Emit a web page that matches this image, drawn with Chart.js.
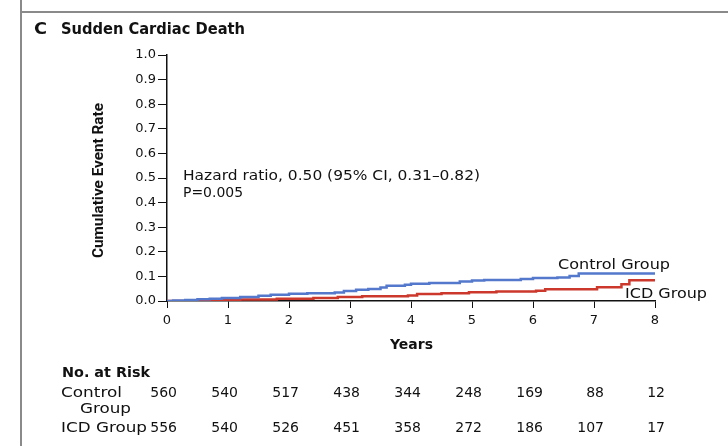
<!DOCTYPE html>
<html>
<head>
<meta charset="utf-8">
<script src="https://cdn.jsdelivr.net/npm/chart.js@4/dist/chart.umd.min.js"></script>
<style>
  html, body { margin: 0; padding: 0; background: #fff; }
  #wrap { width: 728px; height: 446px; position: relative; }
</style>
</head>
<body>
<div id="wrap"><canvas id="kmChart" width="728" height="446"></canvas></div>
<script>
// ---- data ----
const yearTicks = [0, 1, 2, 3, 4, 5, 6, 7, 8];

const controlTimes = [0, 0.1, 0.3, 0.5, 0.7, 0.9, 1.2, 1.5, 1.7, 2.0, 2.3, 2.75, 2.9, 3.1, 3.3, 3.5, 3.6, 3.9, 4.0, 4.3, 4.8, 5.0, 5.2, 5.8, 6.0, 6.4, 6.6, 6.75, 8.0];
const controlRates = [0, 0.002, 0.004, 0.007, 0.009, 0.012, 0.016, 0.021, 0.025, 0.029, 0.031, 0.035, 0.041, 0.046, 0.049, 0.055, 0.062, 0.066, 0.070, 0.073, 0.079, 0.083, 0.085, 0.089, 0.093, 0.096, 0.102, 0.112, 0.112];

const icdTimes = [0, 0.3, 0.8, 1.2, 1.8, 2.4, 2.8, 3.2, 3.95, 4.1, 4.5, 4.95, 5.4, 6.05, 6.2, 7.05, 7.45, 7.58, 8.0];
const icdRates = [0, 0.002, 0.004, 0.006, 0.009, 0.012, 0.016, 0.019, 0.022, 0.028, 0.031, 0.036, 0.039, 0.042, 0.048, 0.056, 0.068, 0.084, 0.084];

const controlAtRisk = [560, 540, 517, 438, 344, 248, 169, 88, 12];
const icdAtRisk = [556, 540, 526, 451, 358, 272, 186, 107, 17];

const toPoints = (xs, ys) => xs.map((x, i) => ({ x: x, y: ys[i] }));

const FONT = '"DejaVu Sans", "Noto Sans", sans-serif';

// draw text, optionally squeezed/stretched to a given width
function txt(ctx, s, x, y, font, width) {
  ctx.font = font;
  const w = ctx.measureText(s).width;
  const k = width ? width / w : 1;
  ctx.save();
  ctx.translate(x, y);
  ctx.scale(k, 1);
  ctx.fillText(s, 0, 0);
  ctx.restore();
}

// frame, titles, labels and the at-risk table
const decorations = {
  id: 'decorations',
  beforeDraw(chart) {
    const ctx = chart.ctx;
    ctx.save();
    ctx.fillStyle = '#fff';
    ctx.fillRect(0, 0, chart.width, chart.height);
    ctx.strokeStyle = '#8a8a8a';
    ctx.lineWidth = 2;
    ctx.beginPath();
    ctx.moveTo(21, 0);
    ctx.lineTo(21, 446);
    ctx.moveTo(21, 12);
    ctx.lineTo(728, 12);
    ctx.stroke();
    ctx.restore();
  },
  afterDraw(chart) {
    const ctx = chart.ctx;
    const x = chart.scales.x;
    ctx.save();
    ctx.fillStyle = '#111';
    ctx.textBaseline = 'middle';
    ctx.textAlign = 'left';

    txt(ctx, 'C', 34, 30, 'bold 16px ' + FONT, 13);
    txt(ctx, 'Sudden Cardiac Death', 61, 30, 'bold 15px ' + FONT, 184);

    // y title
    ctx.save();
    ctx.translate(99, 258);
    ctx.rotate(-Math.PI / 2);
    txt(ctx, 'Cumulative Event Rate', 0, 0, 'bold 15px "Liberation Sans Narrow", "Roboto", sans-serif', 155);
    ctx.restore();

    txt(ctx, 'Hazard ratio, 0.50 (95% CI, 0.31\u20130.82)', 183, 176, '14px ' + FONT, 297);
    txt(ctx, 'P=0.005', 183, 193, '14px ' + FONT, 60);
    txt(ctx, 'Control Group', 558, 265, '14px ' + FONT, 112);
    txt(ctx, 'ICD Group', 625, 294, '14px ' + FONT, 82);

    txt(ctx, 'Years', 390, 345, 'bold 14px ' + FONT, 43);

    txt(ctx, 'No. at Risk', 62, 373, 'bold 14px ' + FONT, 88);
    txt(ctx, 'Control', 61, 393, '14px ' + FONT, 61);
    txt(ctx, 'Group', 80, 409, '14px ' + FONT, 51);
    txt(ctx, 'ICD Group', 61, 428, '14px ' + FONT, 86);

    // at-risk counts, right-aligned just past each year tick
    ctx.textAlign = 'right';
    ctx.font = '14px ' + FONT;
    yearTicks.forEach((yr, i) => {
      const px = x.getPixelForValue(yr) + 10;
      ctx.fillText(String(controlAtRisk[i]), px, 393);
      ctx.fillText(String(icdAtRisk[i]), px, 428);
    });
    ctx.restore();
  }
};

new Chart(document.getElementById('kmChart'), {
  type: 'line',
  data: {
    datasets: [
      {
        label: 'Control Group',
        data: toPoints(controlTimes, controlRates),
        borderColor: 'rgb(84, 120, 204)',
        borderWidth: 2.5,
        stepped: 'before',
        pointRadius: 0,
        fill: false,
      },
      {
        label: 'ICD Group',
        data: toPoints(icdTimes, icdRates),
        borderColor: 'rgb(204, 56, 44)',
        borderWidth: 2.5,
        stepped: 'before',
        pointRadius: 0,
        fill: false,
      },
    ],
  },
  options: {
    responsive: false,
    animation: false,
    layout: { padding: { left: 107, right: 73, top: 55, bottom: 100 } },
    plugins: { legend: { display: false }, tooltip: { enabled: false } },
    scales: {
      x: {
        type: 'linear',
        min: 0,
        max: 8,
        afterBuildTicks: (s) => { s.ticks = yearTicks.map(v => ({ value: v })); },
        afterFit: (s) => { s.height = 45; },
        grid: { drawOnChartArea: false, drawTicks: true, tickLength: 7, color: '#111' },
        border: { color: '#111', width: 1.5 },
        ticks: { color: '#111', font: { family: FONT, size: 13 }, padding: 5, maxRotation: 0 },
      },
      y: {
        min: 0,
        max: 1,
        afterFit: (s) => { s.width = 60; },
        grid: { drawOnChartArea: false, drawTicks: true, tickLength: 9, color: '#111' },
        border: { color: '#111', width: 1.5 },
        ticks: {
          stepSize: 0.1,
          color: '#111',
          font: { family: FONT, size: 13 },
          padding: 2,
          callback: (v) => v.toFixed(1),
        },
      },
    },
  },
  plugins: [decorations],
});
</script>
</body>
</html>
